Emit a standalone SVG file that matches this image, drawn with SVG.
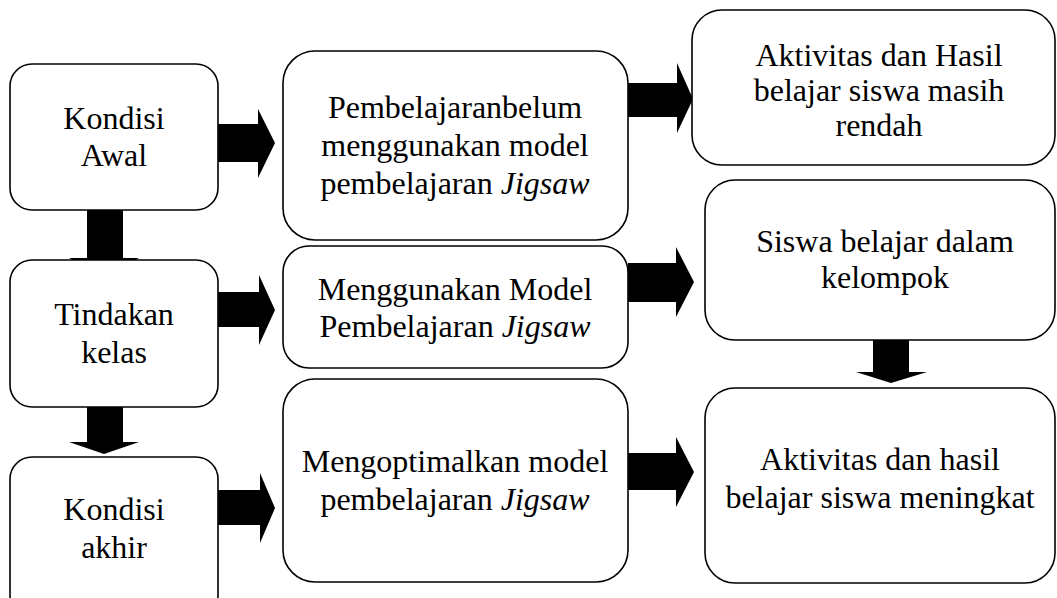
<svg xmlns="http://www.w3.org/2000/svg" width="1057" height="598" viewBox="0 0 1057 598">
<style>
.box{fill:#fff;stroke:#000;stroke-width:1.6}
.t{font-family:"Liberation Serif","Times New Roman",serif;font-size:32px;fill:#000;text-anchor:middle}
.i{font-style:italic}
.arr{fill:#000;stroke:none}
</style>
<rect width="1057" height="598" fill="#fff"/>
<g id="connectors">
<polygon class="arr" points="218,124 258,124 258,109 275,143 258,178 258,162 218,162"/>
<polygon class="arr" points="628,83 677,83 677,63 693,99 677,133 677,117 628,117"/>
<polygon class="arr" points="87,205 123,205 123,258 139,258 104,276 69,258 87,258"/>
<polygon class="arr" points="218,292 259,292 259,275 275,310 259,345 259,327 218,327"/>
<polygon class="arr" points="628,263 676,263 676,247 694,282 676,317 676,302 628,302"/>
<polygon class="arr" points="873,340 909,340 909,372 927,372 891,383 856,372 873,372"/>
<polygon class="arr" points="87,407 123,407 123,442 139,442 104,454 69,442 87,442"/>
<polygon class="arr" points="218,490 260,490 260,473 275,508 260,543 260,525 218,525"/>
<polygon class="arr" points="628,453 676,453 676,437 694,472 676,507 676,490 628,490"/>
</g>
<g id="kondisi-awal">
<rect class="box" x="10" y="64" width="208" height="146" rx="22"/>
<text class="t" x="114" y="129">Kondisi</text>
<text class="t" x="114" y="166">Awal</text>
</g>
<g id="pembelajaran-belum">
<rect class="box" x="283" y="51" width="345" height="189" rx="32"/>
<text class="t" x="455" y="118">Pembelajaranbelum</text>
<text class="t" x="455" y="156">menggunakan model</text>
<text class="t" x="455" y="194">pembelajaran <tspan class="i">Jigsaw</tspan></text>
</g>
<g id="aktivitas-rendah">
<rect class="box" x="692" y="10" width="363" height="155" rx="30"/>
<text class="t" x="879" y="66">Aktivitas dan Hasil</text>
<text class="t" x="879" y="101">belajar siswa masih</text>
<text class="t" x="879" y="136">rendah</text>
</g>
<g id="tindakan-kelas">
<rect class="box" x="10" y="260" width="208" height="147" rx="22"/>
<text class="t" x="114" y="325">Tindakan</text>
<text class="t" x="114" y="363">kelas</text>
</g>
<g id="menggunakan-model">
<rect class="box" x="283" y="246" width="345" height="122" rx="26"/>
<text class="t" x="455" y="300">Menggunakan Model</text>
<text class="t" x="455" y="337">Pembelajaran <tspan class="i">Jigsaw</tspan></text>
</g>
<g id="siswa-kelompok">
<rect class="box" x="705" y="180" width="350" height="160" rx="30"/>
<text class="t" x="885" y="252">Siswa belajar dalam</text>
<text class="t" x="885" y="288">kelompok</text>
</g>
<g id="kondisi-akhir">
<rect class="box" x="10" y="457" width="208" height="160" rx="22"/>
<text class="t" x="114" y="520">Kondisi</text>
<text class="t" x="114" y="558">akhir</text>
</g>
<g id="mengoptimalkan">
<rect class="box" x="283" y="379" width="345" height="203" rx="32"/>
<text class="t" x="455" y="472">Mengoptimalkan model</text>
<text class="t" x="455" y="510">pembelajaran <tspan class="i">Jigsaw</tspan></text>
</g>
<g id="aktivitas-meningkat">
<rect class="box" x="705" y="388" width="350" height="195" rx="30"/>
<text class="t" x="880" y="470">Aktivitas dan hasil</text>
<text class="t" x="880" y="508">belajar siswa meningkat</text>
</g>
</svg>
